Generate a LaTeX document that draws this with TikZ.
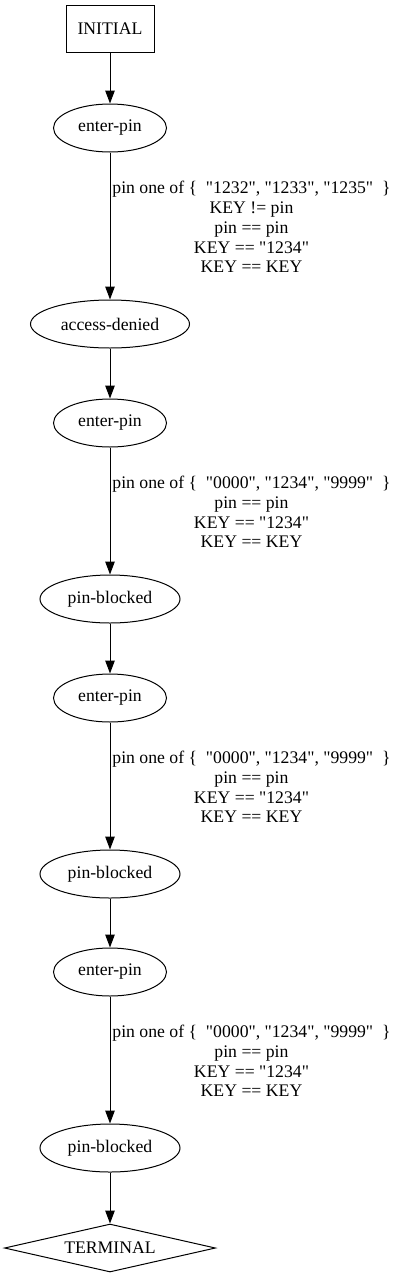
\documentclass[tikz,border=0pt]{standalone}
\usepackage{fontspec}
\newfontfamily\gvfont{Liberation Serif}
\usetikzlibrary{shapes.geometric,arrows.meta}
\begin{document}
\begin{tikzpicture}[x=1pt,y=-1pt,
  every node/.style={font=\gvfont\fontsize{17.7}{19.8}\selectfont, inner sep=0pt, line width=1pt},
  state/.style={draw, ellipse, minimum height=48pt},
  startbox/.style={draw, rectangle, minimum width=88pt, minimum height=47pt},
  endbox/.style={draw, diamond, shape aspect=4.4, minimum width=211pt, minimum height=48pt},
  guard/.style={align=center},
  flow/.style={line width=1pt, -{Triangle[length=13pt,width=9.5pt]}}
]
\useasboundingbox (0,0) rectangle (400,1277);
\node[startbox] (init) at (110,28.5) {INITIAL};
\node[state, minimum width=113pt] (e1) at (110,128) {enter-pin};
\node[state, minimum width=159pt] (ad) at (110,324) {access-denied};
\node[state, minimum width=113pt] (e2) at (110,423) {enter-pin};
\node[state, minimum width=140pt] (b1) at (110,599) {pin-blocked};
\node[state, minimum width=113pt] (e3) at (110,698) {enter-pin};
\node[state, minimum width=140pt] (b2) at (110,874) {pin-blocked};
\node[state, minimum width=113pt] (e4) at (110,972) {enter-pin};
\node[state, minimum width=140pt] (b3) at (110,1148) {pin-blocked};
\node[endbox] (term) at (110,1248) {TERMINAL};

\node[guard] (g1) at (251.5,227) {pin one of \{~ "1232", "1233", "1235"~ \}\\KEY != pin\\pin == pin\\KEY == "1234"\\KEY == KEY};
\node[guard] (g2) at (251.5,512) {pin one of \{~ "0000", "1234", "9999"~ \}\\pin == pin\\KEY == "1234"\\KEY == KEY};
\node[guard] (g3) at (251.5,787) {pin one of \{~ "0000", "1234", "9999"~ \}\\pin == pin\\KEY == "1234"\\KEY == KEY};
\node[guard] (g4) at (251.5,1061) {pin one of \{~ "0000", "1234", "9999"~ \}\\pin == pin\\KEY == "1234"\\KEY == KEY};

\draw[flow] (init) -- (e1);
\draw[flow] (e1) -- (ad);
\draw[flow] (ad) -- (e2);
\draw[flow] (e2) -- (b1);
\draw[flow] (b1) -- (e3);
\draw[flow] (e3) -- (b2);
\draw[flow] (b2) -- (e4);
\draw[flow] (e4) -- (b3);
\draw[flow] (b3) -- (term);
\end{tikzpicture}
\end{document}
